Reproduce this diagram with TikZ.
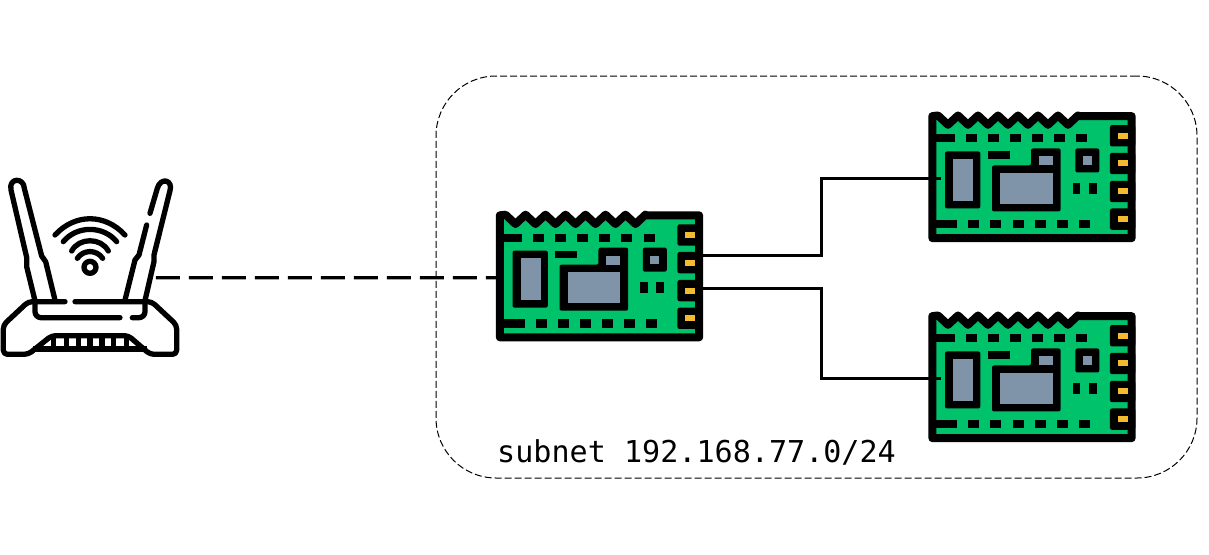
\documentclass[tikz,border=0pt]{standalone}
\usepackage{fontspec}
\setmonofont{DejaVu Sans Mono}
\definecolor{pcbgreen}{HTML}{00C26B}
\definecolor{chipgray}{HTML}{7F93A9}
\definecolor{pinyellow}{HTML}{F2BC2E}
\tikzset{
    outline/.style={draw=black,line width=8pt,line join=round},
    iconline/.style={draw=black,line width=5.3pt,line cap=round,line join=round},
    wire/.style={draw=black,line width=3pt},
    uplink/.style={draw=black,line width=3.2pt,dash pattern=on 24pt off 9pt},
    subnetbox/.style={draw=black,line width=1pt,dash pattern=on 7pt off 3pt,rounded corners=60pt,minimum width=761pt,minimum height=402pt},
    pcbboard/.pic={
        \begin{scope}[x=0.3333pt,y=-0.3333pt]
            \draw[outline,fill=pcbgreen] (28,31)--(45,29)
                \foreach \zig in {75,135,195,255,315,375,435} {--(\zig,57)--(\zig+30,29)}
                --(465,31)--(626,31)--(626,397)--(28,397)--cycle;
            % pads along the top and the bottom
            \fill (38,86) rectangle (95,110);
            \foreach \pad in {128,194,260,327,393,460} {\fill (\pad,86) rectangle (\pad+33,110);}
            \fill (38,343) rectangle (103,368);
            \foreach \pad in {136,202,269,335,402,468} {\fill (\pad,343) rectangle (\pad+33,368);}
            \fill (194,137) rectangle (260,160);
            \fill (449,231) rectangle (472,264);
            \fill (498,231) rectangle (522,264);
            % chips
            \fill[rounded corners=2pt] (66,137) rectangle (172,308);
            \fill[chipgray] (90,160) rectangle (150,285);
            \fill[rounded corners=2pt] (207,179)--(324,179)--(324,128)--(413,128)--(413,317)--(207,317)--cycle;
            \fill[chipgray] (231,202) rectangle (390,294);
            \fill[chipgray] (347,152) rectangle (390,179);
            \fill[rounded corners=2pt] (457,128) rectangle (529,200);
            \fill[chipgray] (480,152) rectangle (506,178);
            % pins on the right
            \foreach \pin in {58,141,225,308} {
                \fill[rounded corners=2pt] (561,\pin) rectangle (637,\pin+64);
                \fill[pinyellow] (585,\pin+23) rectangle (615,\pin+41);
            }
            \coordinate (-chip) at (55,218);
            \coordinate (-edge) at (22,218);
            \coordinate (-pinb) at (620,151);
            \coordinate (-pinc) at (620,252);
        \end{scope}
    },
    wifirouter/.pic={
        \begin{scope}[x=0.3333pt,y=-0.3333pt]
            % body
            \draw[iconline,rounded corners=4pt] (195,395)--(85,395)--(10,465)--(10,553)--(85,553)--(155,497)--(385,497)--(450,553)--(530,553)--(530,465)--(455,395)--(225,395);
            \draw[iconline,rounded corners=6pt] (360,443)--(105,443)--(105,395);
            \draw[iconline,rounded corners=6pt] (397,443)--(435,443)--(435,395);
            % grille
            \draw[iconline,line cap=butt] (100,537)--(440,537);
            \foreach \slat in {161,199,235,270,306,341,379} {\draw[iconline,line cap=butt] (\slat,497)--(\slat,537);}
            % antennas
            \draw[iconline] (105,392)--(80,290)--(80,262)--(33,60) .. controls (25,22) and (72,22) .. (73,55)--(125,258)--(137,275)--(165,390);
            \draw[iconline] (375,390)--(405,270)--(417,255)--(440,165);
            \draw[iconline] (450,130)--(472,55) .. controls (482,20) and (520,30) .. (510,62)--(462,255)--(462,275)--(435,392);
            % wifi waves
            \draw[iconline] (165,195) .. controls (225,130) and (315,130) .. (375,195);
            \draw[iconline] (190,215) .. controls (230,166) and (310,166) .. (350,215);
            \draw[iconline] (215,243) .. controls (237,202) and (303,202) .. (325,243);
            \draw[iconline] (232,265) .. controls (250,238) and (290,238) .. (308,265);
            \draw[iconline] (270,292) circle (18);
            \coordinate (-port) at (468,323);
        \end{scope}
    }
}
\begin{document}
\begin{tikzpicture}[x=1pt,y=-1pt]
    \useasboundingbox (0,0) rectangle (1209,554);
    \node[subnetbox] (subnet) at (816.5,277) {};
    \pic (router) at (0,170) {wifirouter};
    \pic (mainboard) at (490.5,205) {pcbboard};
    \pic (topboard) at (923,105.8) {pcbboard};
    \pic (lowboard) at (923,305.8) {pcbboard};
    \coordinate (bend) at (821.5,0);
    \draw[uplink] (router-port)--(mainboard-edge);
    \draw[wire] (mainboard-pinb)--(bend|-mainboard-pinb)--(bend|-topboard-chip)--(topboard-chip);
    \draw[wire] (mainboard-pinc)--(bend|-mainboard-pinc)--(bend|-lowboard-chip)--(lowboard-chip);
    \node[anchor=base west,inner sep=0pt,font=\ttfamily\fontsize{30.1}{36}\selectfont] (subnetlabel) at (497,462) {subnet 192.168.77.0/24};
\end{tikzpicture}
\end{document}
